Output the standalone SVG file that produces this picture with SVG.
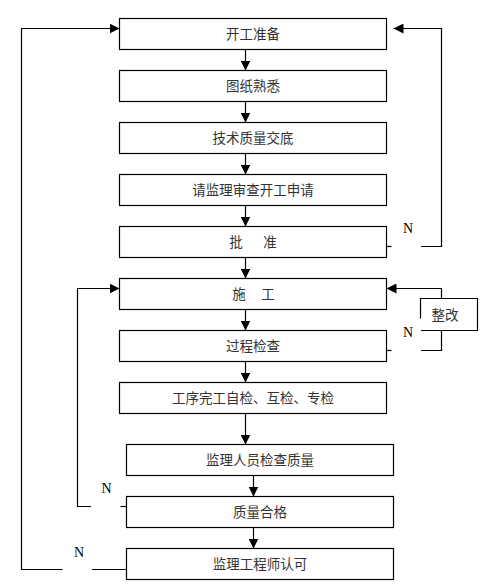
<svg xmlns="http://www.w3.org/2000/svg" width="498" height="585" viewBox="0 0 498 585">
<style>
.box{fill:#fff;stroke:#000;stroke-width:1.2}
.t{font-family:"Noto Sans CJK SC","Noto Sans CJK TC",sans-serif;font-size:13.5px;fill:#333;text-anchor:middle;dominant-baseline:central}
.n{font-family:"Liberation Serif",serif;font-size:14px;fill:#000}
.ln{fill:none;stroke:#000;stroke-width:1.2}
</style>
<defs>
<marker id="ah" viewBox="0 0 10 10" refX="10" refY="5" markerWidth="10" markerHeight="10" markerUnits="userSpaceOnUse" orient="auto"><path d="M0,0 L10,5 L0,10 z" fill="#000"/></marker>
</defs>
<rect width="498" height="585" fill="#fff"/>
<g id="connectors">
<path class="ln" marker-end="url(#ah)" d="M245.5,49.5 V70.5"/>
<path class="ln" marker-end="url(#ah)" d="M245.5,101.5 V122.5"/>
<path class="ln" marker-end="url(#ah)" d="M245.5,153.5 V174.5"/>
<path class="ln" marker-end="url(#ah)" d="M245.5,205.5 V226.5"/>
<path class="ln" marker-end="url(#ah)" d="M245.5,257.5 V278.5"/>
<path class="ln" marker-end="url(#ah)" d="M245.5,309.5 V330.5"/>
<path class="ln" marker-end="url(#ah)" d="M245.5,361.5 V382.5"/>
<path class="ln" marker-end="url(#ah)" d="M245.5,413.5 V444.5"/>
<path class="ln" marker-end="url(#ah)" d="M253.5,475.5 V496.5"/>
<path class="ln" marker-end="url(#ah)" d="M253.5,527.5 V548.5"/>
<path class="ln" d="M126.5,569.5 H92"/>
<path class="ln" marker-end="url(#ah)" d="M62.5,569.5 H21.5 V28.5 H119.5"/>
<path class="ln" d="M126.5,506.5 H120.5"/>
<path class="ln" marker-end="url(#ah)" d="M91,506.5 H77.5 V288.5 H119.5"/>
<path class="ln" d="M386.5,246.5 H391.5"/>
<path class="ln" marker-end="url(#ah)" d="M421,246.5 H441.5 V28.5 H393.5"/>
<path class="ln" d="M386.5,350.5 H391.5"/>
<path class="ln" d="M421,350.5 H441.5 V330.5"/>
<path class="ln" marker-end="url(#ah)" d="M441.5,298.5 V288.5 H386.5"/>
<text class="n" x="403" y="233">N</text>
<text class="n" x="403" y="337">N</text>
<text class="n" x="101.5" y="493">N</text>
<text class="n" x="74" y="556.5">N</text>
</g>
<g id="n1"><rect class="box" x="119.5" y="18.5" width="267" height="31"/><text class="t" x="253" y="32.5">开工准备</text></g>
<g id="n2"><rect class="box" x="119.5" y="70.5" width="267" height="31"/><text class="t" x="253" y="85">图纸熟悉</text></g>
<g id="n3"><rect class="box" x="119.5" y="122.5" width="267" height="31"/><text class="t" x="253" y="137">技术质量交底</text></g>
<g id="n4"><rect class="box" x="119.5" y="174.5" width="267" height="31"/><text class="t" x="253" y="189">请监理审查开工申请</text></g>
<g id="n5"><rect class="box" x="119.5" y="226.5" width="267" height="31"/><text class="t" y="241"><tspan x="236">批</tspan><tspan x="270">准</tspan></text></g>
<g id="n6"><rect class="box" x="119.5" y="278.5" width="267" height="31"/><text class="t" y="293"><tspan x="239">施</tspan><tspan x="268">工</tspan></text></g>
<g id="n7"><rect class="box" x="119.5" y="330.5" width="267" height="31"/><text class="t" x="253" y="344.5">过程检查</text></g>
<g id="n8"><rect class="box" x="119.5" y="382.5" width="267" height="31"/><text class="t" x="253" y="397">工序完工自检、互检、专检</text></g>
<g id="n9"><rect class="box" x="126.5" y="444.5" width="267" height="31"/><text class="t" x="260" y="459">监理人员检查质量</text></g>
<g id="n10"><rect class="box" x="126.5" y="496.5" width="267" height="31"/><text class="t" x="260" y="511">质量合格</text></g>
<g id="n11"><rect class="box" x="126.5" y="548.5" width="267" height="31"/><text class="t" x="260" y="563">监理工程师认可</text></g>
<g id="n12"><path class="ln" d="M420.5,318.5 V298.5 H477.5 V330.5 H421"/><text class="t" x="445" y="313.5">整改</text></g>
</svg>
